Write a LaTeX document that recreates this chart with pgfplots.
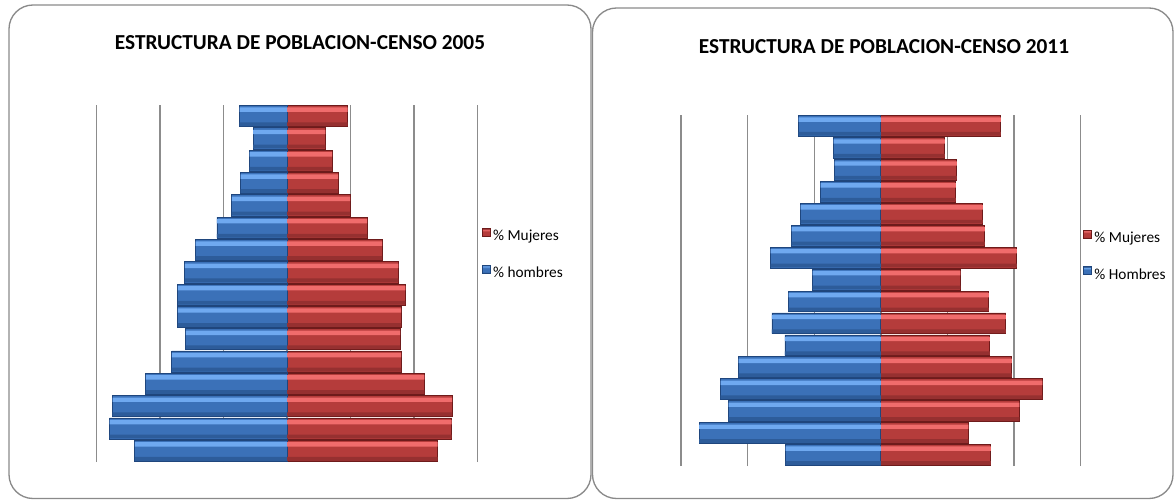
\documentclass[border=0pt]{standalone}
\usepackage{pgfplots}
\pgfplotsset{compat=1.18}
\usepackage{pgfplotstable}
\usepackage{fontspec}
\setmainfont{Carlito}

\definecolor{azulD}{HTML}{1F467D}
\definecolor{azulB}{HTML}{2D5C9A}
\definecolor{azulM}{HTML}{3B71B8}
\definecolor{azulL}{HTML}{6FA9F0}
\definecolor{rojoD}{HTML}{6E1B1B}
\definecolor{rojoB}{HTML}{963030}
\definecolor{rojoM}{HTML}{B53C3B}
\definecolor{rojoL}{HTML}{F06C6C}
\definecolor{rejilla}{HTML}{8C8C8C}
\definecolor{marco}{HTML}{8A8A8A}

% bisel de la muestra de leyenda
\pgfdeclareverticalshading{azulbar}{100bp}{color(0bp)=(azulD); color(25bp)=(azulD);
  color(28bp)=(azulB); color(33bp)=(azulM); color(61bp)=(azulM); color(64bp)=(azulL);
  color(70bp)=(azulL); color(73bp)=(azulM); color(75bp)=(azulD); color(100bp)=(azulD)}
\pgfdeclareverticalshading{rojobar}{100bp}{color(0bp)=(rojoD); color(25bp)=(rojoD);
  color(28bp)=(rojoB); color(33bp)=(rojoM); color(61bp)=(rojoM); color(64bp)=(rojoL);
  color(70bp)=(rojoL); color(73bp)=(rojoM); color(75bp)=(rojoD); color(100bp)=(rojoD)}

% Censo 2005 (% de la poblacion, y=1 grupo de abajo)
\pgfplotstableread{
y  hombres mujeres
1  -4.80 4.75
2  -5.59 5.19
3  -5.50 5.21
4  -4.45 4.33
5  -3.63 3.60
6  -3.19 3.57
7  -3.44 3.60
8  -3.44 3.73
9  -3.22 3.51
10 -2.88 3.00
11 -2.21 2.53
12 -1.74 1.99
13 -1.46 1.61
14 -1.18 1.42
15 -1.07 1.21
16 -1.49 1.91
}\censoA

% Censo 2011
\pgfplotstableread{
y  hombres mujeres
1  -2.86 3.30
2  -5.46 2.63
3  -4.57 4.16
4  -4.81 4.85
5  -4.27 3.93
6  -2.88 3.27
7  -3.27 3.75
8  -2.77 3.24
9  -2.05 2.39
10 -3.31 4.08
11 -2.68 3.12
12 -2.41 3.06
13 -1.81 2.25
14 -1.39 2.28
15 -1.42 1.92
16 -2.47 3.60
}\censoB

\pgfplotsset{
  piramide/.style={
    scale only axis,
    xmin=-6, xmax=6, ymin=0.5, ymax=16.5,
    xtick={-6,-4,-2,0,2,4,6}, xticklabels={}, ytick=\empty,
    major tick length=0pt,
    axis line style={draw=none},
    xmajorgrids, grid style={color=rejilla, line width=1pt},
    legend cell align=left,
    legend style={draw=none, fill=none, inner sep=0pt, anchor=west,
      font=\fontsize{11.5}{13}\selectfont, row sep=15.5pt,
      nodes={inner sep=0pt, text height=8pt, text depth=2.5pt},
      /tikz/every odd column/.append style={column sep=2pt}},
  },
  barra/.style={xbar, bar shift=0pt, bar width=0.95, line width=0.6pt},
  claro/.style={xbar, bar shift=0.29, bar width=0.2, draw=none, forget plot},
  oscuro/.style={xbar, bar shift=-0.36, bar width=0.17, draw=none, forget plot},
  mujeres/.style={barra, draw=rojoD, fill=rojoM,
    legend image code/.code={\path[draw=rojoD, line width=0.4pt, shade, shading=rojobar] (0pt,0.5pt) rectangle (6pt,6.5pt);}},
  hombres/.style={barra, draw=azulD, fill=azulM,
    legend image code/.code={\path[draw=azulD, line width=0.4pt, shade, shading=azulbar] (0pt,0.5pt) rectangle (6pt,6.5pt);}},
}

\begin{document}
\begin{tikzpicture}[x=0.75pt, y=0.75pt]
\useasboundingbox (0,0) rectangle (1176,500);
\draw[marco, line width=1pt, rounded corners=18pt] (9,1.5) rectangle (591,495);
\draw[marco, line width=1pt, rounded corners=18pt] (592.5,1.5) rectangle (1173,492);

\node[anchor=base, font=\fontsize{16}{19}\selectfont\bfseries] at (300,450) {ESTRUCTURA DE POBLACION-CENSO 2005};
\node[anchor=base, font=\fontsize{16}{19}\selectfont\bfseries] at (884,446) {ESTRUCTURA DE POBLACION-CENSO 2011};

\begin{axis}[piramide, at={(72.525pt,28.5pt)}, anchor=south west,
    width=285.45pt, height=267.75pt,
    legend style={at={(rel axis cs:1,0.581)}, xshift=3.3pt}]
\addplot[mujeres] table[x=mujeres, y=y] {\censoA};
\addlegendentry{\% Mujeres}
\addplot[hombres] table[x=hombres, y=y] {\censoA};
\addlegendentry{\% hombres}
\addplot[claro, fill=rojoL] table[x=mujeres, y=y] {\censoA};
\addplot[claro, fill=azulL] table[x=hombres, y=y] {\censoA};
\addplot[oscuro, fill=rojoB] table[x=mujeres, y=y] {\censoA};
\addplot[oscuro, fill=azulB] table[x=hombres, y=y] {\censoA};
\end{axis}

\begin{axis}[piramide, at={(510.75pt,25.5pt)}, anchor=south west,
    width=299.8pt, height=263.25pt,
    legend style={at={(rel axis cs:1,0.598)}, xshift=1.7pt}]
\addplot[mujeres] table[x=mujeres, y=y] {\censoB};
\addlegendentry{\% Mujeres}
\addplot[hombres] table[x=hombres, y=y] {\censoB};
\addlegendentry{\% Hombres}
\addplot[claro, fill=rojoL] table[x=mujeres, y=y] {\censoB};
\addplot[claro, fill=azulL] table[x=hombres, y=y] {\censoB};
\addplot[oscuro, fill=rojoB] table[x=mujeres, y=y] {\censoB};
\addplot[oscuro, fill=azulB] table[x=hombres, y=y] {\censoB};
\end{axis}
\end{tikzpicture}
\end{document}
